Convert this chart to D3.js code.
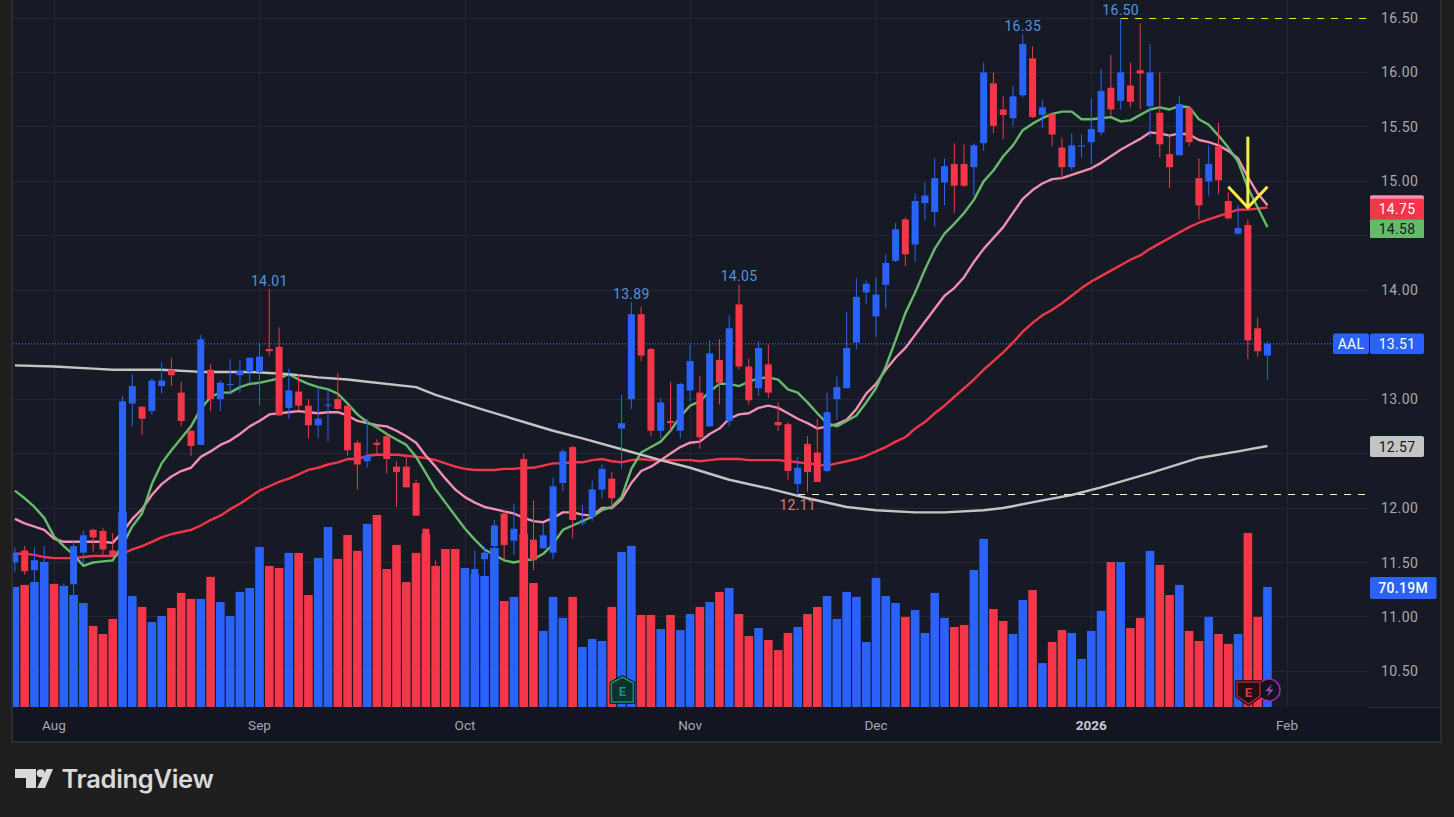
<!DOCTYPE html>
<html><head><meta charset="utf-8">
<script src="https://cdn.jsdelivr.net/npm/d3@7"></script>
<style>html,body{margin:0;padding:0;background:#1e1e1e;overflow:hidden}svg{display:block}text{font-family:Roboto,"Liberation Sans",sans-serif}</style>
</head><body><svg id="c" width="1454" height="817"></svg>
<script>
const openP=[11.50,11.61,11.43,11.35,11.25,11.05,11.30,11.59,11.80,11.79,11.61,11.50,12.96,12.93,12.89,13.12,13.27,13.06,12.71,12.58,13.27,13.00,13.13,13.22,13.25,13.25,13.46,13.48,12.92,13.07,12.94,12.76,12.94,13.00,12.94,12.60,12.43,12.60,12.66,12.38,12.38,12.23,11.81,11.45,11.45,11.40,11.10,11.20,11.53,11.65,11.95,11.70,12.45,11.71,11.63,11.59,12.23,12.56,11.86,11.92,12.17,12.27,12.73,13.00,13.78,13.46,12.71,12.80,12.71,13.08,13.06,12.75,13.36,12.80,13.87,13.30,13.10,13.32,12.79,12.77,12.22,12.59,12.51,12.34,13.00,13.10,13.52,13.98,13.76,14.05,14.27,14.65,14.42,14.80,14.72,14.99,15.16,15.16,15.13,15.35,15.90,15.66,15.58,15.79,16.13,15.61,15.62,15.31,15.13,15.32,15.36,15.45,15.86,15.74,15.88,16.02,15.69,15.63,15.25,15.24,15.67,15.03,15.00,15.32,14.82,14.52,14.60,13.65,13.40];
const highP=[11.64,11.65,11.64,11.65,11.27,11.31,11.70,11.79,11.81,11.82,11.77,13.03,13.23,12.94,13.19,13.34,13.38,13.16,12.71,13.59,13.32,13.17,13.37,13.36,13.38,13.52,14.01,13.66,13.28,13.23,13.00,13.11,13.09,13.24,12.94,12.62,12.82,12.63,12.67,12.43,12.48,12.26,11.81,11.52,11.55,11.50,11.40,11.61,11.64,11.89,11.98,12.04,12.50,12.07,11.86,12.28,12.54,12.57,12.03,12.25,12.40,12.33,13.04,13.89,13.85,13.47,13.01,13.16,13.15,13.50,13.21,13.54,13.55,13.77,14.05,13.37,13.53,13.50,12.97,12.79,12.47,12.66,12.82,13.06,13.21,13.80,14.11,14.09,14.12,14.33,14.62,14.67,14.89,14.99,15.21,15.21,15.35,15.34,15.35,16.09,16.00,15.78,15.88,16.35,16.24,15.75,15.62,15.40,15.44,15.43,15.76,16.03,16.16,16.50,16.09,16.45,16.26,16.00,15.43,15.79,15.69,15.21,15.33,15.54,14.90,14.78,14.65,13.75,13.53];
const lowP=[11.41,11.39,11.32,11.30,11.00,11.00,11.17,11.49,11.60,11.57,11.57,11.45,12.75,12.67,12.86,13.05,13.12,12.75,12.48,12.58,12.89,12.89,13.04,13.06,13.14,12.94,13.40,12.85,12.82,12.90,12.64,12.64,12.61,12.90,12.48,12.17,12.37,12.48,12.32,12.01,12.19,11.93,11.45,11.20,11.25,11.10,11.05,11.15,11.38,11.62,11.53,11.57,11.50,11.43,11.63,11.53,12.15,11.72,11.84,11.88,12.09,12.00,12.36,12.91,13.35,12.66,12.64,12.71,12.64,12.98,12.54,12.75,12.95,12.75,13.27,12.95,13.03,13.01,12.71,12.26,12.12,12.15,12.24,12.33,12.81,13.10,13.46,13.87,13.57,13.83,14.26,14.22,14.26,14.64,14.58,14.78,14.71,14.95,14.87,15.28,15.44,15.39,15.51,15.77,15.58,15.49,15.32,15.02,15.10,15.22,15.16,15.42,15.60,15.66,15.68,15.66,15.41,15.22,14.94,15.24,15.32,14.65,14.87,14.88,14.65,14.51,13.37,13.39,13.18];
const closeP=[11.59,11.42,11.52,11.45,11.05,11.20,11.65,11.75,11.73,11.62,11.57,12.98,13.12,12.82,13.17,13.17,13.22,12.80,12.57,13.55,13.00,13.15,13.14,13.26,13.38,13.39,13.44,12.85,13.08,12.94,12.76,12.82,12.95,12.91,12.53,12.40,12.48,12.58,12.45,12.33,12.19,11.93,11.50,11.25,11.30,11.15,11.30,11.44,11.59,11.84,11.66,11.81,11.62,11.52,11.75,12.20,12.52,11.89,11.87,12.17,12.36,12.09,12.78,13.78,13.40,12.71,12.97,12.78,13.14,13.35,12.65,13.42,13.15,13.65,13.30,12.99,13.47,13.06,12.76,12.34,12.37,12.33,12.24,12.88,13.11,13.47,13.94,14.06,13.96,14.25,14.56,14.33,14.82,14.87,15.03,15.14,14.96,14.96,15.33,16.00,15.51,15.61,15.78,16.26,15.59,15.68,15.43,15.13,15.33,15.33,15.48,15.83,15.66,16.00,15.73,15.99,16.00,15.34,15.13,15.71,15.36,14.78,15.16,15.01,14.66,14.57,13.54,13.44,13.51];
const volumeM=[70.2,71.4,73.1,84.8,72.0,70.8,65.5,60.8,47.4,42.7,51.5,114,64.9,58.5,49.7,53.2,57.9,66.7,63.2,63.2,76.1,61.4,53.2,67.3,69.6,93.6,82.5,81.3,90.1,90.1,65.5,87.2,105.3,86.6,100.6,91.3,107.1,112.3,80.7,94.8,73.1,90.1,101.2,82.5,92.4,92.4,81.3,77.8,76.6,93.0,62.0,64.4,101.2,72.5,44.5,64.4,52.1,64.4,35.1,39.8,38.6,58.5,90.7,94.2,53.8,53.8,45.6,53.8,45.0,54.4,58.5,61.4,67.3,69.6,54.4,41.5,46.2,39.2,33.3,43.3,46.8,54.4,58.5,64.9,51.5,67.3,64.4,38.0,75.5,64.9,60.8,52.7,56.7,43.3,66.7,52.1,46.8,48.0,80.1,98.3,57.3,50.3,42.7,62.6,68.4,25.7,38.0,45.0,43.3,28.1,44.5,56.2,84.8,84.8,46.2,52.1,91.3,83.1,65.5,71.4,44.5,38.6,52.7,42.7,36.9,42.7,101.8,52.7,70.19];
const maGreen=[12.16,12.09,12.01,11.91,11.74,11.65,11.57,11.47,11.50,11.51,11.52,11.66,11.83,11.95,12.22,12.41,12.53,12.64,12.75,12.91,13.02,13.06,13.06,13.11,13.14,13.15,13.17,13.19,13.23,13.18,13.14,13.11,13.09,13.05,12.96,12.86,12.79,12.74,12.68,12.63,12.58,12.47,12.32,12.17,12.05,11.93,11.81,11.71,11.62,11.57,11.52,11.50,11.52,11.53,11.58,11.67,11.80,11.84,11.88,11.92,11.98,12.01,12.10,12.36,12.51,12.56,12.61,12.71,12.84,12.94,12.98,13.07,13.14,13.14,13.12,13.16,13.19,13.20,13.18,13.09,13.06,12.97,12.87,12.78,12.75,12.80,12.85,12.97,13.10,13.30,13.54,13.79,13.98,14.19,14.38,14.52,14.61,14.71,14.83,15.00,15.10,15.23,15.33,15.47,15.53,15.58,15.62,15.64,15.64,15.57,15.57,15.58,15.59,15.55,15.56,15.61,15.66,15.68,15.66,15.69,15.68,15.57,15.52,15.42,15.31,15.18,14.94,14.76,14.58];
const maPink=[11.90,11.86,11.83,11.80,11.72,11.69,11.69,11.69,11.69,11.69,11.68,11.78,11.90,11.99,12.12,12.22,12.29,12.34,12.37,12.47,12.52,12.58,12.62,12.68,12.75,12.80,12.86,12.87,12.88,12.89,12.88,12.87,12.88,12.88,12.85,12.80,12.78,12.76,12.75,12.71,12.66,12.60,12.48,12.38,12.27,12.17,12.10,12.05,12.01,11.99,11.97,11.95,11.91,11.88,11.87,11.91,11.96,11.96,11.94,11.93,12.00,12.00,12.08,12.23,12.34,12.38,12.44,12.50,12.56,12.60,12.61,12.68,12.73,12.82,12.86,12.87,12.92,12.94,12.92,12.87,12.82,12.78,12.73,12.75,12.77,12.81,12.91,13.05,13.14,13.27,13.38,13.47,13.59,13.71,13.83,13.95,14.02,14.12,14.26,14.38,14.48,14.58,14.71,14.84,14.92,14.98,15.02,15.03,15.06,15.09,15.12,15.17,15.23,15.29,15.34,15.39,15.45,15.44,15.42,15.44,15.43,15.38,15.36,15.33,15.28,15.21,15.04,14.89,14.78];
const maRed=[11.58,11.58,11.57,11.55,11.54,11.54,11.54,11.55,11.56,11.56,11.56,11.58,11.62,11.65,11.69,11.73,11.76,11.78,11.80,11.84,11.89,11.93,11.99,12.04,12.10,12.16,12.20,12.24,12.27,12.31,12.35,12.37,12.40,12.42,12.45,12.45,12.48,12.49,12.49,12.49,12.48,12.47,12.46,12.44,12.41,12.38,12.36,12.35,12.35,12.35,12.36,12.36,12.37,12.37,12.39,12.41,12.41,12.42,12.42,12.44,12.45,12.43,12.42,12.44,12.45,12.44,12.44,12.44,12.44,12.44,12.43,12.44,12.45,12.45,12.45,12.44,12.44,12.44,12.44,12.43,12.42,12.41,12.40,12.39,12.41,12.43,12.45,12.48,12.52,12.56,12.61,12.65,12.73,12.79,12.87,12.94,13.02,13.10,13.18,13.27,13.35,13.43,13.52,13.62,13.70,13.77,13.82,13.88,13.95,14.02,14.08,14.13,14.18,14.23,14.28,14.32,14.38,14.43,14.48,14.53,14.58,14.62,14.65,14.68,14.71,14.74,14.74,14.75,14.76];
const whiteIdx=[0,4,8,10,15,19,24,26,28,31,34,36,41,43,48,52,55,58,62,66,69,73,77,81,85,88,92,95,99,101,105,108,111,116,121,125,128];
const whiteVals=[13.31,13.30,13.28,13.27,13.27,13.25,13.25,13.24,13.23,13.20,13.18,13.16,13.11,13.04,12.90,12.79,12.71,12.64,12.54,12.44,12.37,12.26,12.18,12.09,12.01,11.98,11.96,11.96,11.98,12.00,12.07,12.12,12.19,12.32,12.46,12.52,12.57];
const priceTicks=[16.5,16,15.5,15,14.5,14,13.5,13,12.5,12,11.5,11,10.5];
const coveredTicks=[14.5,13.5,12.5];
const timeTicks=[["Aug",4,false],["Sep",25,false],["Oct",46,false],["Nov",69,false],["Dec",88,false],["2026",110,true],["Feb",130,false]];
const peakLabels=[["14.01",26,14.01,"h"],["13.89",63,13.89,"h"],["14.05",74,14.05,"h"],["16.35",103,16.35,"h"],["16.50",113,16.50,"h"],["12.11",80,12.11,"l"]];

const BLUE="#2962ff",RED="#f53548",GREEN="#66bb6a",PINK="#f48fb1",GREY="#c4c4c4",YELLOW="#ffeb3b";
const svg=d3.select("#c");
const x=d3.scaleLinear().domain([4,130]).range([54,1287]);
const y=d3.scaleLinear().domain([10.5,16.5]).range([671.4,18]);
const v=d3.scaleLinear().domain([0,100]).range([707,536]);
const idx=d3.range(closeP.length);

const defs=svg.append("defs");
defs.append("clipPath").attr("id","plot").append("rect").attr("x",13).attr("y",0).attr("width",1355).attr("height",707);

svg.append("rect").attr("width",1454).attr("height",817).attr("fill","#1e1e1e");
svg.append("rect").attr("x",12).attr("y",-2).attr("width",1429).attr("height",744).attr("fill","#161a25").attr("stroke","#2c2c2c").attr("stroke-width",2);
svg.append("rect").attr("x",13).attr("y",707).attr("width",1427).attr("height",33).attr("fill","#121620");

// grid
const grid=svg.append("g").attr("stroke","#242833").attr("stroke-width",1).attr("shape-rendering","crispEdges");
grid.selectAll(".h").data(priceTicks).join("line").attr("x1",13).attr("x2",1368).attr("y1",d=>y(d)).attr("y2",d=>y(d));
grid.selectAll(".v").data(timeTicks).join("line").attr("x1",d=>x(d[1])).attr("x2",d=>x(d[1])).attr("y1",0).attr("y2",707);
svg.append("line").attr("x1",1368).attr("x2",1440).attr("y1",707).attr("y2",707).attr("stroke","#2a2e39").attr("shape-rendering","crispEdges");

const plot=svg.append("g").attr("clip-path","url(#plot)");
const line=d3.line().x(d=>x(d[0])).y(d=>y(d[1]));
[[maRed,RED],[maPink,PINK],[maGreen,GREEN]].forEach(([s,c])=>{
  plot.append("path").attr("d",line(s.map((d,i)=>[i,d]))).attr("fill","none").attr("stroke",c).attr("stroke-width",2.4).attr("stroke-linejoin","round");
});
plot.append("path").attr("d",line(whiteIdx.map((d,i)=>[d,whiteVals[i]]))).attr("fill","none").attr("stroke",GREY).attr("stroke-width",2.4).attr("stroke-linejoin","round");

// last price dotted
plot.append("line").attr("x1",13).attr("x2",1334).attr("y1",y(13.51)).attr("y2",y(13.51)).attr("stroke",BLUE).attr("stroke-width",1).attr("stroke-dasharray","1 2").attr("shape-rendering","crispEdges");
// volume
const col=i=>closeP[i]>=openP[i]?BLUE:RED;
plot.selectAll(".vol").data(idx).join("rect").attr("x",i=>x(i)-4.3).attr("width",8.6).attr("y",i=>v(volumeM[i])).attr("height",i=>707-v(volumeM[i])).attr("fill",col);
// hi/lo dashed
plot.append("line").attr("x1",x(113)).attr("x2",1368).attr("y1",y(16.5)).attr("y2",y(16.5)).attr("stroke","#ffe600").attr("stroke-dasharray","7 7").attr("shape-rendering","crispEdges");
plot.append("line").attr("x1",x(80)).attr("x2",1368).attr("y1",y(12.12)).attr("y2",y(12.12)).attr("stroke","#fdf7b8").attr("stroke-dasharray","7 7").attr("shape-rendering","crispEdges");
// candles
plot.selectAll(".wick").data(idx).join("line").attr("x1",i=>x(i)).attr("x2",i=>x(i)).attr("y1",i=>y(highP[i])).attr("y2",i=>y(lowP[i])).attr("stroke",col).attr("stroke-width",1);
plot.selectAll(".body").data(idx).join("rect").attr("x",i=>x(i)-3.5).attr("width",7)
 .attr("y",i=>y(Math.max(openP[i],closeP[i]))).attr("height",i=>Math.max(1,Math.abs(y(openP[i])-y(closeP[i])))).attr("fill",col);

// peak labels
svg.selectAll(".peak").data(peakLabels).join("text").attr("x",d=>x(d[1])).attr("y",d=>d[3]==="h"?y(d[2])-3.5:y(d[2])+13.5)
 .attr("text-anchor","middle").attr("font-size",14).attr("letter-spacing",".3").attr("fill",d=>d[3]==="h"?"#4f94e0":"#e57373").text(d=>d[0]);

// yellow arrow
const arrow=d3.line().x(d=>x(d[0])).y(d=>y(d[1]));
svg.append("path").attr("d",arrow([[126,15.41],[126,14.76]])).attr("stroke",YELLOW).attr("stroke-width",3).attr("fill","none");
svg.append("path").attr("d",arrow([[124,14.95],[126,14.76],[128,14.95]])).attr("stroke",YELLOW).attr("stroke-width",3).attr("fill","none");

// price axis
svg.selectAll(".pl").data(priceTicks.filter(d=>!coveredTicks.includes(d))).join("text").attr("x",1381).attr("y",d=>y(d)+5).attr("font-size",14).attr("letter-spacing",".4").attr("fill","#a6a9b2").text(d=>d.toFixed(2));
// time axis
svg.selectAll(".tl").data(timeTicks).join("text").attr("x",d=>x(d[1])).attr("y",729.5).attr("text-anchor","middle").attr("font-size",13.5)
 .attr("font-weight",d=>d[2]?"700":"400").attr("fill",d=>d[2]?"#c8cad0":"#a6a9b2").text(d=>d[0]);

// tags
function tag(xx,yy,w,h,fill,txt,tc,rx,weight){
  svg.append("rect").attr("x",xx).attr("y",yy).attr("width",w).attr("height",h).attr("rx",rx).attr("fill",fill);
  svg.append("text").attr("x",xx+w/2).attr("y",yy+h/2+5).attr("text-anchor","middle").attr("font-size",14).attr("letter-spacing",".3").attr("font-weight",weight||400).attr("fill",tc).text(txt);
}
svg.append("rect").attr("x",1370).attr("y",195.3).attr("width",54).attr("height",6).attr("rx",2).attr("fill",PINK);
tag(1370,198.7,54,20.6,RED,"14.75","#fff",0);
tag(1370,219.3,54,18.7,GREEN,"14.58","#12201a",1);
tag(1333,333.5,36,20.5,BLUE,"AAL","#fff",2);
tag(1370,333.5,54,20.5,BLUE,"13.51","#fff",2);
tag(1370,436,54,21,"#c4c4c4","12.57","#131722",2);
tag(1370,577,66.5,22,BLUE,"70.19M","#fff",2,500);

// earnings markers
function shield(cx,top,w,h,fill,stroke,txtc){
  const g=svg.append("g");
  const pts=[[cx-w/2,top+3],[cx+w/2,top+3],[cx+w/2,top+h-8],[cx,top+h],[cx-w/2,top+h-8]];
  g.append("polygon").attr("points",pts.join(" ")).attr("fill",fill).attr("stroke","#0b0b0b").attr("stroke-width",3.5);
  g.append("polygon").attr("points",pts.join(" ")).attr("fill",fill).attr("stroke",stroke).attr("stroke-width",1.5);
  g.append("text").attr("x",cx).attr("y",top+17.5).attr("text-anchor","middle").attr("font-size",13).attr("font-weight",700).attr("fill",txtc).text("E");
}
function house(cx,top,w,h,fill,stroke,txtc){
  const g=svg.append("g");
  const pts=[[cx,top],[cx+w/2,top+6],[cx+w/2,top+h],[cx-w/2,top+h],[cx-w/2,top+6]];
  g.append("polygon").attr("points",pts.join(" ")).attr("fill",fill).attr("stroke","#0b0b0b").attr("stroke-width",3.5);
  g.append("polygon").attr("points",pts.join(" ")).attr("fill",fill).attr("stroke",stroke).attr("stroke-width",1.5);
  g.append("text").attr("x",cx).attr("y",top+19).attr("text-anchor","middle").attr("font-size",13).attr("font-weight",700).attr("fill",txtc).text("E");
}
house(x(62)+0.8,677,22,25,"#10302e","#089981","#089981");
svg.append("circle").attr("cx",1269).attr("cy",690).attr("r",11).attr("fill","#171220").attr("stroke","#9c27b0").attr("stroke-width",1.6);
svg.append("path").attr("d","M1272 684 L1265.5 691 L1269.5 691 L1266.5 697 L1273.5 689.5 L1269.5 689.5 Z").attr("fill","#ab47bc");
shield(1248.5,679,23,25,"#1f1014","#b3222e","#e0313f");

// TradingView logo
const logo=svg.append("g").attr("fill","#d9d9d9");
logo.append("polygon").attr("points","15,769 36,769 36,788 26,788 26,778 15,778");
logo.append("circle").attr("cx",40.7).attr("cy",773.3).attr("r",4);
logo.append("polygon").attr("points","46.5,769 53,769 45,788 37,788");
svg.append("text").attr("x",61.5).attr("y",788).attr("font-size",25.5).attr("font-weight",600).attr("fill","#d9d9d9").style("font-family","Inter,Roboto,sans-serif").attr("letter-spacing","-.3").text("TradingView");
</script></body></html>
